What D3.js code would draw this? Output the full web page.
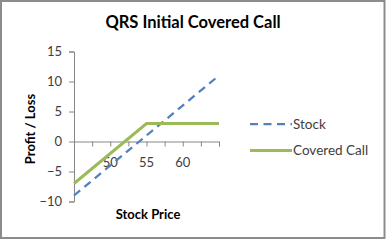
<!DOCTYPE html>
<html>
<head>
<meta charset="utf-8">
<script src="https://cdn.jsdelivr.net/npm/d3@7"></script>
<style>
  html, body { margin: 0; padding: 0; background: #fff; }
  svg { display: block; font-family: Lato, "Open Sans", sans-serif; }
</style>
</head>
<body>
<svg id="chart" width="386" height="240"></svg>
<script>
const prices = [45, 55, 65];
const stock = [-9, 1, 11];
const coveredCall = [-7, 3, 3];
const xTicks = [45, 47.5, 50, 52.5, 55, 57.5, 60, 62.5, 65];
const xLabels = [50, 55, 60];
const yTicks = [-10, -5, 0, 5, 10, 15];

const series = [
  { name: "Stock", values: stock, color: "#4f81bd", width: 2.25, dash: "8,5.5" },
  { name: "Covered Call", values: coveredCall, color: "#9bbb59", width: 3, dash: null },
];

const W = 386, H = 240;
const svg = d3.select("#chart");

// outer chart border
svg.append("rect")
  .attr("x", 1).attr("y", 1).attr("width", W - 2.5).attr("height", H - 3)
  .attr("fill", "#fff").attr("stroke", "#8c8c8c").attr("stroke-width", 2);

const x = d3.scaleLinear().domain([45, 65]).range([74, 219]);
const y = d3.scaleLinear().domain([-10, 15]).range([201.5, 51.5]);

svg.append("text")
  .attr("x", 193).attr("y", 28)
  .attr("text-anchor", "middle").attr("fill", "#000")
  .style("font-size", "16.5px").style("font-weight", 700)
  .text("QRS Initial Covered Call");

// y axis
svg.append("g").attr("transform", `translate(${x(45)},0)`)
  .call(d3.axisLeft(y).tickValues(yTicks).tickSize(5).tickPadding(7))
  .call(g => g.select(".domain").attr("stroke", "#868686"))
  .call(g => g.selectAll("line").attr("stroke", "#868686"))
  .selectAll("text").attr("fill", "#404040").style("font-size", "13px")
  .style("font-family", "Lato, sans-serif");

// x axis through zero, labels sit lower
svg.append("g").attr("transform", `translate(0,${y(0)})`)
  .call(d3.axisBottom(x).tickValues(xTicks).tickSize(5).tickFormat(""))
  .call(g => g.select(".domain").attr("stroke", "#868686"))
  .call(g => g.selectAll("line").attr("stroke", "#868686"));

svg.selectAll("text.xl").data(xLabels).join("text")
  .attr("class", "xl")
  .attr("x", d => x(d)).attr("y", y(0) + 25)
  .attr("text-anchor", "middle").attr("fill", "#404040")
  .style("font-size", "13px")
  .text(d => d);

svg.append("text")
  .attr("x", 148).attr("y", 219)
  .attr("text-anchor", "middle").attr("fill", "#000")
  .style("font-size", "13px").style("font-weight", 700)
  .text("Stock Price");

svg.append("text")
  .attr("transform", "translate(35,129) rotate(-90)")
  .attr("text-anchor", "middle").attr("fill", "#000")
  .style("font-size", "13px").style("font-weight", 700)
  .text("Profit / Loss");

const line = d3.line().x(d => x(d[0])).y(d => y(d[1]));
series.forEach(s => {
  svg.append("path")
    .datum(prices.map((p, i) => [p, s.values[i]]))
    .attr("fill", "none").attr("stroke", s.color)
    .attr("stroke-width", s.width)
    .attr("stroke-dasharray", s.dash)
    .attr("d", line);
});

// legend
const leg = svg.selectAll("g.leg").data(series).join("g")
  .attr("class", "leg")
  .attr("transform", (d, i) => `translate(250,${124 + i * 26.5})`);
leg.append("line")
  .attr("x1", 0).attr("x2", 42).attr("y1", 0).attr("y2", 0)
  .attr("stroke", d => d.color).attr("stroke-width", d => d.width)
  .attr("stroke-dasharray", d => d.dash);
leg.append("text")
  .attr("x", 43).attr("y", 4.5)
  .attr("fill", "#404040").style("font-size", "13.5px")
  .text(d => d.name);
</script>
</body>
</html>
